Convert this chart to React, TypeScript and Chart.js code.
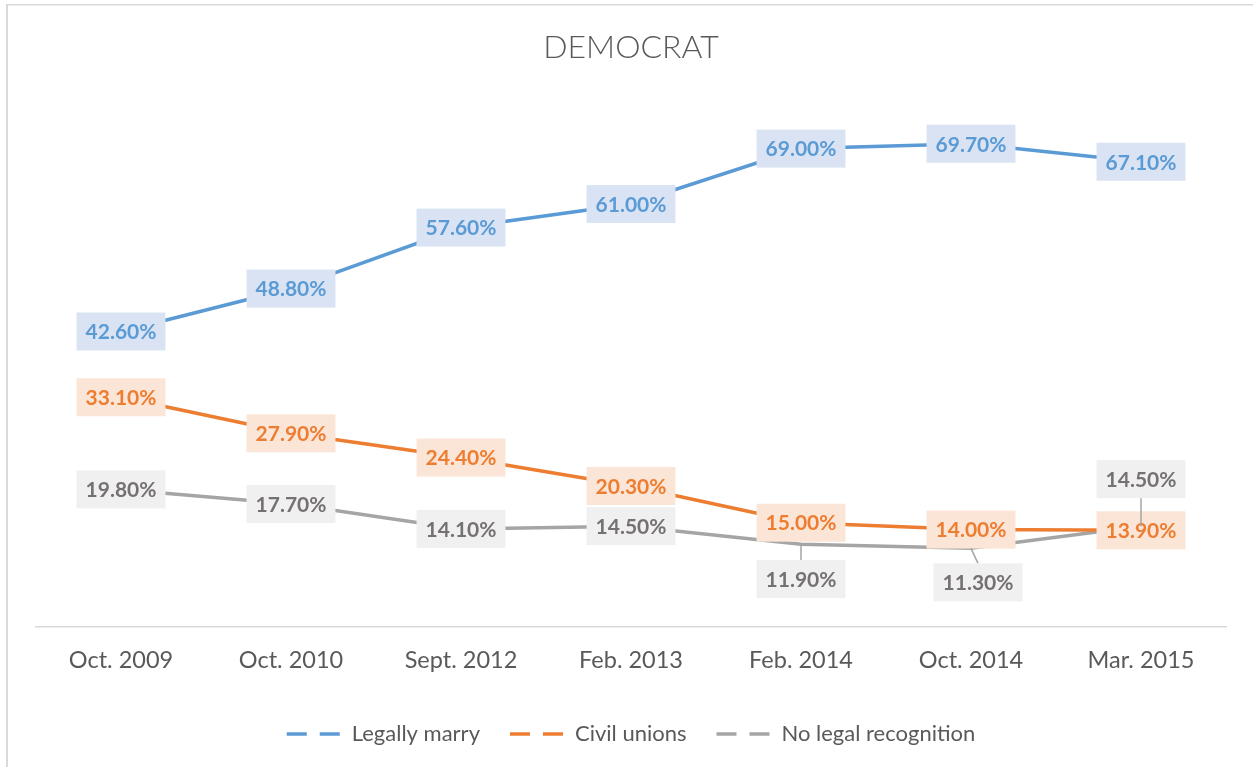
import React, { useEffect, useRef } from "react";
import { Chart, registerables } from "chart.js";

Chart.register(...registerables);

const categories = ["Oct. 2009", "Oct. 2010", "Sept. 2012", "Feb. 2013", "Feb. 2014", "Oct. 2014", "Mar. 2015"];
const legallyMarry = [42.6, 48.8, 57.6, 61.0, 69.0, 69.7, 67.1];
const civilUnions = [33.1, 27.9, 24.4, 20.3, 15.0, 14.0, 13.9];
const noLegalRecognition = [19.8, 17.7, 14.1, 14.5, 11.9, 11.3, 14.5];
const seriesNames = ["Legally marry", "Civil unions", "No legal recognition"];
const lineColors = ["#5B9BD5", "#ED7D31", "#A5A5A5"];
const labelBg = ["#DAE3F3", "#FBE5D6", "#F0F0F0"];
const labelText = ["#5B9BD5", "#ED7D31", "#767171"];

// label placement (pixel offsets of the label box from its point)
const noOffsets = [[0, 0], [0, 0], [0, 0], [0, 0], [0, 0], [0, 0], [0, 0]];
const noLegalOffsets = [[0, 0], [0, 0], [0, 0], [0, 0], [0, 35], [7, 34], [0, -47]];
const labelOffsets = [noOffsets, noOffsets, noLegalOffsets];

const FONT = "Lato, 'Open Sans', sans-serif";

const borderPlugin = {
  id: "frame",
  beforeDraw(chart: any) {
    const ctx = chart.ctx;
    ctx.save();
    ctx.fillStyle = "#FFFFFF";
    ctx.fillRect(0, 0, chart.width, chart.height);
    ctx.fillStyle = "#D9D9D9";
    ctx.fillRect(6, 4, 2, chart.height);
    ctx.fillRect(6, 4, chart.width, 1.5);
    ctx.restore();
  },
};

const labelPlugin = {
  id: "boxLabels",
  afterDatasetsDraw(chart: any) {
    const ctx = chart.ctx;
    ctx.save();
    ctx.font = `bold 21px ${FONT}`;
    ctx.textAlign = "center";
    ctx.textBaseline = "middle";
    chart.data.datasets.forEach((ds: any, di: number) => {
      const meta = chart.getDatasetMeta(di);
      meta.data.forEach((pt: any, i: number) => {
        const v = ds.data[i] as number;
        const off = labelOffsets[di][i];
        const bx = pt.x + off[0];
        const by = pt.y + off[1];
        const text = v.toFixed(2) + "%";
        const w = ctx.measureText(text).width + 18;
        const h = 38;
        if (off[0] !== 0 || off[1] !== 0) {
          ctx.strokeStyle = "#A5A5A5";
          ctx.lineWidth = 1.5;
          ctx.beginPath();
          ctx.moveTo(pt.x, pt.y);
          ctx.lineTo(bx, off[1] > 0 ? by - h / 2 : by + h / 2);
          ctx.stroke();
        }
        ctx.fillStyle = labelBg[di];
        ctx.fillRect(bx - w / 2, by - h / 2, w, h);
        ctx.fillStyle = labelText[di];
        ctx.fillText(text, bx, by + 1);
      });
    });
    ctx.restore();
  },
};

export default function App() {
  const ref = useRef<HTMLCanvasElement>(null);
  useEffect(() => {
    if (!ref.current) return;
    const seriesData = [legallyMarry, civilUnions, noLegalRecognition];
    const chart = new Chart(ref.current, {
      type: "line",
      data: {
        labels: categories,
        datasets: seriesData.map((d, i) => ({
          label: seriesNames[i],
          data: d,
          borderColor: lineColors[i],
          backgroundColor: lineColors[i],
          borderWidth: 3.5,
          pointRadius: 0,
          tension: 0,
          fill: false,
        })),
      },
      options: {
        animation: false,
        responsive: false,
        layout: { padding: { left: 36, right: 27, top: 0, bottom: 12 } },
        plugins: {
          tooltip: { enabled: false },
          title: {
            display: true,
            text: "DEMOCRAT",
            color: "#595959",
            font: { family: FONT, size: 32, weight: "300" as any },
            padding: { top: 28, bottom: 6 },
          },
          legend: {
            position: "bottom",
            labels: {
              usePointStyle: true,
              pointStyleWidth: 54,
              padding: 30,
              color: "#595959",
              font: { family: FONT, size: 22 },
              generateLabels: (c: any) =>
                c.data.datasets.map((ds: any, i: number) => ({
                  text: ds.label,
                  fillStyle: ds.borderColor,
                  strokeStyle: ds.borderColor,
                  lineWidth: 3.5,
                  lineDash: [20, 13],
                  pointStyle: "line",
                  hidden: false,
                  datasetIndex: i,
                  fontColor: "#595959",
                })),
            },
          },
        },
        scales: {
          x: {
            offset: true,
            grid: { display: false, drawTicks: false },
            border: { display: true, color: "#D9D9D9", width: 1.5 },
            ticks: { color: "#595959", font: { family: FONT, size: 23.5 }, padding: 20, maxRotation: 0 },
            afterFit: (scale: any) => {
              scale.height = 66.4;
            },
          },
          y: {
            display: false,
            min: 0,
            max: 80,
          },
        },
      },
      plugins: [borderPlugin, labelPlugin],
    });
    return () => chart.destroy();
  }, []);
  return (
    <div style={{ position: "absolute", left: 0, top: 0, width: 1253, height: 767 }}>
      <canvas ref={ref} width={1253} height={767} style={{ display: "block" }} />
    </div>
  );
}
